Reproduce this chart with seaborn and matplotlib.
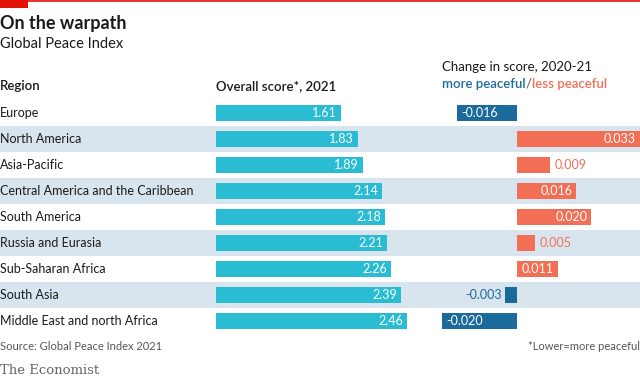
import numpy as np
import pandas as pd
import matplotlib
matplotlib.use("Agg")
import matplotlib.pyplot as plt
import seaborn as sns

# ----------------------------
# Data
# ----------------------------
regions = ["Europe", "North America", "Asia-Pacific",
           "Central America and the Caribbean", "South America",
           "Russia and Eurasia", "Sub-Saharan Africa", "South Asia",
           "Middle East and north Africa"]
overall = [1.61, 1.83, 1.89, 2.14, 2.18, 2.21, 2.26, 2.39, 2.46]
change = [-0.016, 0.033, 0.009, 0.016, 0.020, 0.005, 0.011, -0.003, -0.020]
change_labels = ["-0.016", "0.033", "0.009", "0.016", "0.020",
                 "0.005", "0.011", "-0.003", "-0.020"]

df = pd.DataFrame({"region": regions, "overall": overall, "change": change})
df["direction"] = np.where(df["change"] < 0, "more", "less")

# colours
CYAN = "#29bcd2"
BLUE = "#1b6a9c"
RED = "#f26f55"
BAND = "#d9e5ee"
TEXT = "#1a1a1a"

sns.set_theme(style="white")
plt.rcParams["font.family"] = ["Lato", "DejaVu Sans"]

W, H = 640, 379
fig = plt.figure(figsize=(6.4, 3.79), dpi=100)

# rows: top at y=100px, 26px per row
n = len(regions)
row_top, row_h = 100, 26
ax_bottom = 1 - (row_top + n * row_h) / H
ax_height = n * row_h / H

# ----------------------------
# Background axes: bands + region names
# ----------------------------
bg = fig.add_axes([0, ax_bottom, 1, ax_height])
bg.set_xlim(0, 1)
bg.set_ylim(n - 0.5, -0.5)
bg.axis("off")
for i, r in enumerate(regions):
    if i % 2 == 1:
        bg.axhspan(i - 0.5, i + 0.5, color=BAND, lw=0, zorder=0)
    bg.text(0.0, i, r, ha="left", va="center", fontsize=9, color=TEXT)

# ----------------------------
# Overall score bars
# ----------------------------
px_per_unit = 77.6
ov_left, ov_w = 216, 200
ax1 = fig.add_axes([ov_left / W, ax_bottom, ov_w / W, ax_height])
sns.barplot(data=df, x="overall", y="region", hue="region",
            palette=[CYAN] * n, legend=False, width=0.65, linewidth=0,
            saturation=1, orient="h", ax=ax1)
ax1.set_xlim(0, ov_w / px_per_unit)
ax1.set_ylim(n - 0.5, -0.5)
ax1.axis("off")
ax1.patch.set_alpha(0)
for i, v in enumerate(overall):
    ax1.text(v - 4 / px_per_unit, i, f"{v:.2f}", ha="right", va="center",
             color="white", fontsize=9)

# ----------------------------
# Change bars
# ----------------------------
ch_left, ch_w = 420, 220
zero_px = 516.7
ch_scale = (640 - zero_px) / 0.033
ax2 = fig.add_axes([ch_left / W, ax_bottom, ch_w / W, ax_height])
sns.barplot(data=df, x="change", y="region", hue="direction",
            palette={"more": BLUE, "less": RED}, legend=False, width=0.65,
            linewidth=0, saturation=1, orient="h", ax=ax2)
ax2.set_xlim(-(zero_px - ch_left) / ch_scale, 0.033)
ax2.set_ylim(n - 0.5, -0.5)
ax2.axis("off")
ax2.patch.set_alpha(0)
pad = 4 / ch_scale
for i, (v, lab) in enumerate(zip(change, change_labels)):
    col = BLUE if v < 0 else RED
    inside = abs(v) * ch_scale > 38
    if v >= 0:
        if inside:
            ax2.text(v - pad, i, lab, ha="right", va="center", color="white", fontsize=9)
        else:
            ax2.text(v + pad, i, lab, ha="left", va="center", color=col, fontsize=9)
    else:
        if inside:
            ax2.text(v + pad, i, lab, ha="left", va="center", color="white", fontsize=9)
        else:
            ax2.text(v - pad, i, lab, ha="right", va="center", color=col, fontsize=9)

# ----------------------------
# Titles, headers, footer
# ----------------------------
fig.add_artist(plt.Line2D([0, 1], [1 - 1 / H, 1 - 1 / H], color="#e3120b", lw=1.2))
fig.add_artist(plt.Rectangle((0, 1 - 8 / H), 28 / W, 8 / H, color="#e3120b", lw=0))

fig.text(0, 1 - 23 / H, "On the warpath", fontsize=13, fontweight="bold",
         color=TEXT, va="center", ha="left")
fig.text(0, 1 - 44 / H, "Global Peace Index", fontsize=10.5,
         color=TEXT, va="center", ha="left")

fig.text(0, 1 - 86 / H, "Region", fontsize=9.5, fontweight="semibold",
         color=TEXT, va="center", ha="left")
fig.text(216 / W, 1 - 86 / H, "Overall score*, 2021", fontsize=9.5,
         fontweight="semibold", color=TEXT, va="center", ha="left")
fig.text(442 / W, 1 - 67 / H, "Change in score, 2020-21", fontsize=9.5,
         color=TEXT, va="center", ha="left")
t1 = fig.text(442 / W, 1 - 84 / H, "more peaceful", fontsize=9.5,
              fontweight="semibold", color=BLUE, va="center", ha="left")
fig.canvas.draw()
bb = t1.get_window_extent()
t2 = fig.text(bb.x1 / W, 1 - 84 / H, "/", fontsize=9.5, color="#555555",
              va="center", ha="left")
bb2 = t2.get_window_extent()
fig.text(bb2.x1 / W, 1 - 84 / H, "less peaceful", fontsize=9.5,
         fontweight="semibold", color=RED, va="center", ha="left")

fig.text(0, 1 - 346 / H, "Source: Global Peace Index 2021", fontsize=8,
         color="#555555", va="center", ha="left")
fig.text(1, 1 - 346 / H, "*Lower=more peaceful", fontsize=8,
         color="#555555", va="center", ha="right")
fig.text(0, 1 - 370 / H, "The Economist", fontsize=9.5, family="serif",
         color="#666666", va="center", ha="left")

plt.savefig("out.png", dpi=100)
